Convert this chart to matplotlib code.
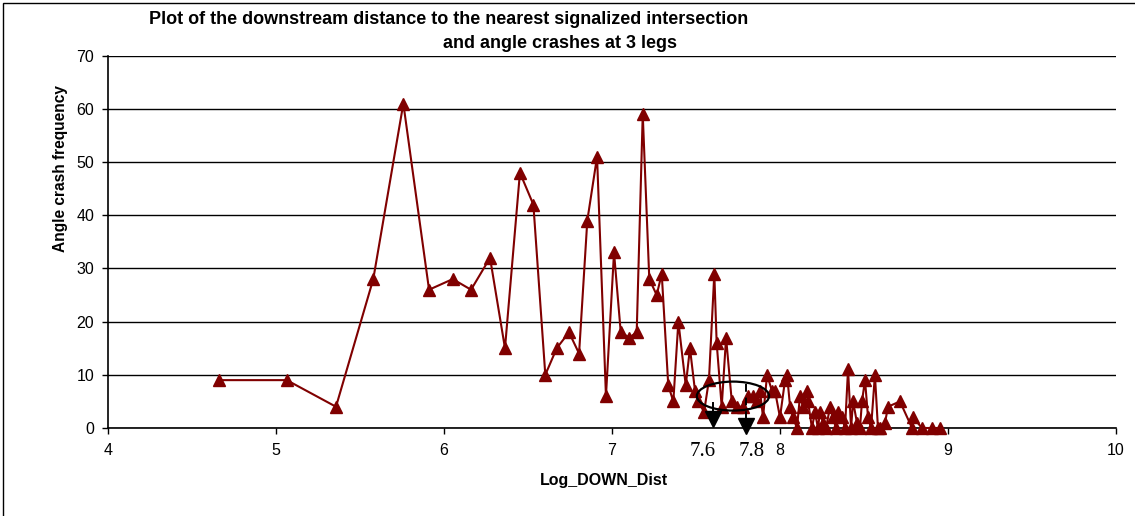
import matplotlib
matplotlib.use("Agg")
import matplotlib.pyplot as plt
from matplotlib.patches import Ellipse, Rectangle
from matplotlib.lines import Line2D

# Log of downstream distance to nearest signalized intersection vs angle crash count
log_down_dist = [
    4.662, 5.064, 5.357, 5.579, 5.758, 5.911, 6.052, 6.161, 6.274, 6.363,
    6.452, 6.532, 6.603, 6.671, 6.744, 6.804, 6.853, 6.911, 6.964, 7.012,
    7.052, 7.103, 7.147, 7.183, 7.222, 7.266, 7.296, 7.335, 7.365, 7.395,
    7.439, 7.464, 7.494, 7.514, 7.548, 7.577, 7.609, 7.623, 7.653, 7.679,
    7.713, 7.744, 7.780, 7.810, 7.839, 7.863, 7.881, 7.899, 7.923, 7.952,
    7.970, 8.000, 8.030, 8.042, 8.060, 8.077, 8.101, 8.119, 8.137, 8.161,
    8.167, 8.190, 8.208, 8.226, 8.238, 8.256, 8.274, 8.298, 8.315, 8.333,
    8.345, 8.369, 8.387, 8.405, 8.423, 8.435, 8.458, 8.476, 8.488, 8.506,
    8.524, 8.542, 8.565, 8.583, 8.595, 8.625, 8.643, 8.714, 8.786, 8.792,
    8.845, 8.905, 8.952,
]
angle_crashes = [
    9, 9, 4, 28, 61, 26, 28, 26, 32, 15,
    48, 42, 10, 15, 18, 14, 39, 51, 6, 33,
    18, 17, 18, 59, 28, 25, 29, 8, 5, 20,
    8, 15, 7, 5, 3, 9, 29, 16, 4, 17,
    5, 4, 4, 6, 6, 5, 7, 2, 10, 7,
    7, 2, 9, 10, 4, 2, 0, 6, 4, 7,
    5, 0, 3, 0, 3, 1, 0, 4, 2, 0,
    3, 2, 0, 11, 0, 5, 1, 0, 5, 9,
    2, 0, 10, 0, 0, 1, 4, 5, 0, 2,
    0, 0, 0,
]

x_ticks = [4, 5, 6, 7, 8, 9, 10]
y_ticks = [0, 10, 20, 30, 40, 50, 60, 70]
marked_values = [7.6, 7.8]

title_line1 = "Plot of the downstream distance to the nearest signalized intersection"
title_line2 = "and angle crashes at 3 legs"
x_label = "Log_DOWN_Dist"
y_label = "Angle crash frequency"

W, H = 1135, 516
fig = plt.figure(figsize=(W / 100, H / 100), dpi=100)
fig.patch.set_facecolor("white")

def fx(px):
    return px / W

def fy(py):
    return 1 - py / H

left, right, top, bottom = 108, 1116, 55.7, 428
ax = fig.add_axes([fx(left), fy(bottom), fx(right) - fx(left), fy(top) - fy(bottom)])
ax.set_xlim(4, 10)
ax.set_ylim(0, 70)

ax.set_xticks(x_ticks)
ax.set_yticks(y_ticks)
ax.set_xticklabels([str(t) for t in x_ticks], fontsize=11.5, family="Liberation Sans")
ax.set_yticklabels([str(t) for t in y_ticks], fontsize=11.5, family="Liberation Sans")
ax.tick_params(axis="x", direction="out", length=4, width=1, color="black", pad=7)
ax.tick_params(axis="y", direction="out", length=4, width=1, color="black", pad=6)

for s in ["top", "right"]:
    ax.spines[s].set_visible(False)
for s in ["left", "bottom"]:
    ax.spines[s].set_color("black")
    ax.spines[s].set_linewidth(1.2)

ax.yaxis.grid(True, color="black", linewidth=1.0)
ax.set_axisbelow(True)

ax.plot(log_down_dist, angle_crashes, color="#800000", linewidth=1.5,
        marker="^", markersize=9, markerfacecolor="#800000",
        markeredgecolor="#800000", zorder=3, clip_on=False)

# Highlighted region and the two marked distances
ax.add_patch(Ellipse((7.72, 6.0), 0.43, 5.45, fill=False, edgecolor="black",
                     linewidth=1.6, zorder=5))
ax.add_line(Line2D([marked_values[0]] * 2, [4.7, 2.4], color="black",
                   linewidth=1.4, zorder=5))
ax.plot([marked_values[0]], [1.6], marker="v", markersize=11, color="black",
        zorder=6, clip_on=False)
ax.add_line(Line2D([marked_values[1]] * 2, [8.3, 1.6], color="black",
                   linewidth=1.4, linestyle=(0, (4, 3)), zorder=5))
ax.plot([marked_values[1]], [0.3], marker="v", markersize=11, color="black",
        zorder=6, clip_on=False)
for v, dx in zip(marked_values, [-0.06, 0.03]):
    ax.text(v + dx, -4.4, f"{v:.1f}", fontsize=15, family="Liberation Serif",
            ha="center", va="center", zorder=6, clip_on=False)

# Titles and axis labels
fig.text(fx(449), fy(19), title_line1, fontsize=13, fontweight="bold",
         family="Liberation Sans", ha="center", va="center")
fig.text(fx(560), fy(44), title_line2, fontsize=13, fontweight="bold",
         family="Liberation Sans", ha="center", va="center")
fig.text(fx(604), fy(480), x_label, fontsize=11.5, fontweight="bold",
         family="Liberation Sans", ha="center", va="center")
fig.text(fx(60), fy(169), y_label, fontsize=11.2, fontweight="bold",
         family="Liberation Sans", ha="center", va="center", rotation=90)

# Chart frame
fig.patches.append(Rectangle((fx(3), -0.1), 1.2, fy(3) + 0.1, transform=fig.transFigure,
                             fill=False, edgecolor="black", linewidth=1.0))

fig.savefig("out.png", dpi=100)
